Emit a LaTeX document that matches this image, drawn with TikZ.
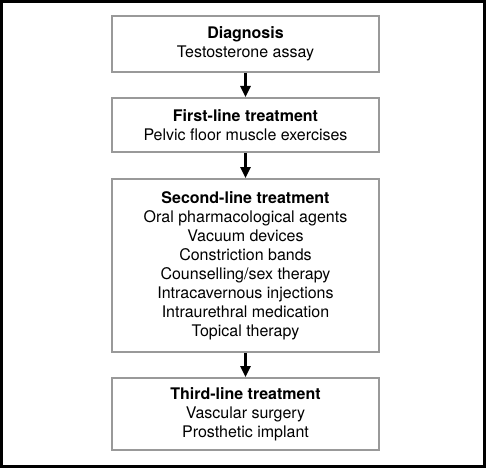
\documentclass[tikz,border=0pt]{standalone}
\usepackage{fontspec}
\setmainfont{TeX Gyre Heros}
\usepackage{tikz}
\usetikzlibrary{arrows.meta}
\definecolor{boxgray}{gray}{0.6}
\tikzset{
  stage/.style={draw=boxgray,line width=2pt,minimum width=267pt,align=center,
    font=\fontsize{16}{19}\selectfont,inner sep=0pt},
  flow/.style={line width=2.5pt,-{Triangle[length=11pt,width=10pt]},shorten >=0pt}
}
\begin{document}
\begin{tikzpicture}[x=1pt,y=-1pt]
  \useasboundingbox (0,0) rectangle (486,468);
  \draw[line width=3pt] (1.5,1.5) rectangle (484.5,466.5);
  \node[stage,minimum height=56pt] (diag) at (245.5,44)
    {\textbf{Diagnosis}\\Testosterone assay};
  \node[stage,minimum height=54pt] (first) at (245.5,125)
    {\textbf{First-line treatment}\\Pelvic floor muscle exercises};
  \node[stage,minimum height=173pt] (second) at (245.5,265.5)
    {\textbf{Second-line treatment}\\Oral pharmacological agents\\Vacuum devices\\
     Constriction bands\\Counselling/sex therapy\\Intracavernous injections\\
     Intraurethral medication\\Topical therapy};
  \node[stage,minimum height=72pt] (third) at (245.5,414)
    {\textbf{Third-line treatment}\\Vascular surgery\\Prosthetic implant};
  \draw[flow] (diag) -- (first);
  \draw[flow] (first) -- (second);
  \draw[flow] (second) -- (third);
\end{tikzpicture}
\end{document}
